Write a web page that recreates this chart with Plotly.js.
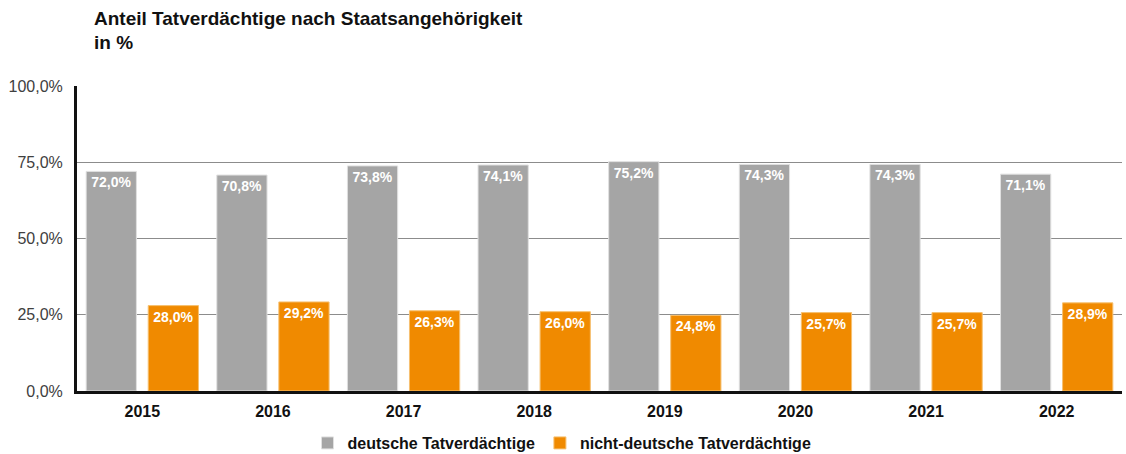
<!DOCTYPE html>
<html><head><meta charset="utf-8">
<script src="https://cdn.plot.ly/plotly-3.0.1.min.js"></script>
<style>body{margin:0;background:#fff}#c{width:1126px;height:454px}</style>
</head><body><div id="c"></div>
<script>
const years = ['2015','2016','2017','2018','2019','2020','2021','2022'];
const deutsche = [72.0,70.8,73.8,74.1,75.2,74.3,74.3,71.1];
const nichtDeutsche = [28.0,29.2,26.3,26.0,24.8,25.7,25.7,28.9];
const yTicks = [0,25,50,75,100];
const yTickText = yTicks.map(v => v.toFixed(1).replace('.', ',') + '%');

const common = {
  type:'bar', x: years,
  texttemplate:'%{y:.1f}%', textposition:'inside', insidetextanchor:'end',
  textangle:0,
  textfont:{family:'Liberation Sans, Arial', size:14, color:'#ffffff', weight:'bold'},
  hoverinfo:'skip'
};
const data = [
  Object.assign({}, common, {name:'deutsche Tatverdächtige', y:deutsche,
    marker:{color:'#a5a5a5', line:{color:'#e0e0e0', width:1}}}),
  Object.assign({}, common, {name:'nicht-deutsche Tatverdächtige', y:nichtDeutsche,
    marker:{color:'#f08a00', line:{color:'#f6c070', width:1}}})
];
const layout = {
  width:1126, height:454,
  margin:{l:77, r:4, t:86, b:63, autoexpand:false},
  paper_bgcolor:'#fff', plot_bgcolor:'#fff',
  separators:',.',
  barmode:'group', bargap:0.05, bargroupgap:0.19,
  font:{family:'Liberation Sans, Arial', color:'#333'},
  annotations:[
    {text:'<b>Anteil Tatverdächtige nach Staatsangehörigkeit</b>', xref:'paper', yref:'paper',
      x:(92-77)/1045, y:1+(86-18)/305, xanchor:'left', yanchor:'middle', showarrow:false,
      font:{size:19, color:'#111'}},
    {text:'<b>in %</b>', xref:'paper', yref:'paper',
      x:(92-77)/1045, y:1+(86-42)/305, xanchor:'left', yanchor:'middle', showarrow:false,
      font:{size:19, color:'#111'}}
  ],
  xaxis:{showline:true, linecolor:'#111', linewidth:3, ticks:'',
    tickfont:{size:16, color:'#111', weight:'bold'}, showgrid:false, automargin:false,
    ticklabelstandoff:4},
  yaxis:{range:[0,100], tickvals:yTicks, ticktext:yTickText,
    showline:true, linecolor:'#111', linewidth:3, showgrid:true, gridcolor:'#8c8c8c', gridwidth:1,
    tickfont:{size:16, color:'#404040'}, zeroline:false, ticks:'', automargin:false,
    ticklabelstandoff:8},
  showlegend:true,
  legend:{orientation:'h', xref:'container', yref:'container', x:562/1126, xanchor:'center',
    y:11/454, yanchor:'middle',
    font:{size:16, color:'#111', weight:'bold'}, traceorder:'normal'}
};
Plotly.newPlot('c', data, layout, {displayModeBar:false, staticPlot:true});
</script></body></html>
